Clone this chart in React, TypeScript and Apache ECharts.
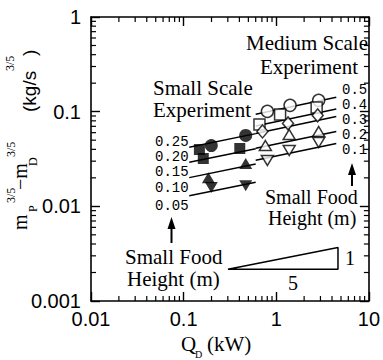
import React, { useEffect, useRef } from "react";
import * as echarts from "echarts";

// Food heights (m) labelling the fitted lines
const medHeights = ["0.5", "0.4", "0.3", "0.2", "0.1"];
const smallHeights = ["0.25", "0.20", "0.15", "0.10", "0.05"];

// Fitted lines (slope 1/5 in log-log): Q_D range and m-values at both ends
const medLineQ = [0.6, 4.45];
const medLineM = [
  [0.0941, 0.1418],
  [0.0707, 0.1066],
  [0.0589, 0.0887],
  [0.041, 0.0618],
  [0.0306, 0.0461],
];
const smallLineQ = [0.115, 0.6];
const smallLineM = [
  [0.0421, 0.0586],
  [0.0292, 0.0406],
  [0.0201, 0.028],
  [0.01296, 0.018],
];

// Medium scale experiment (open symbols)
const medCircle = [[0.802, 0.1007], [1.41, 0.1166], [2.87, 0.1317]];
const medSquare = [[0.659, 0.0733], [1.1, 0.0936], [2.73, 0.111]];
const medDiamond = [[0.71, 0.0618], [1.34, 0.0751], [2.8, 0.0913]];
const medTriUp = [[0.763, 0.0439], [1.38, 0.0574], [2.87, 0.0618]];
const medTriDown = [[0.802, 0.0305], [1.38, 0.0389], [2.87, 0.0472]];

// Small scale experiment (filled symbols)
const smallCircle = [[0.199, 0.0439], [0.468, 0.0561]];
const smallSquare = [[0.148, 0.0398], [0.163, 0.032], [0.404, 0.0408]];
const smallTriUp = [[0.185, 0.0201], [0.468, 0.0283]];
const smallTriDown = [[0.199, 0.0158], [0.468, 0.0165]];

// Slope triangle 1:5
const slopeTriangle = [[0.301, 0.00216], [4.64, 0.00216], [4.64, 0.00367], [0.301, 0.00216]];

// Log minor ticks
const minorMult = [2, 3, 4, 5, 6, 7, 8, 9];
const xDecades = [0.01, 0.1, 1];
const yDecades = [0.001, 0.01, 0.1];

const serif = "'Liberation Serif', 'Times New Roman', serif";
const sans = "'Liberation Sans', Arial, sans-serif";
const mono = "'Liberation Mono', monospace";

export default function App() {
  const ref = useRef<HTMLDivElement>(null);
  useEffect(() => {
    if (!ref.current) return;
    const chart = echarts.init(ref.current, undefined, { renderer: "svg" });

    const xMinor: number[] = [];
    xDecades.forEach((d) => minorMult.forEach((m) => xMinor.push(+(d * m).toPrecision(3))));
    const yMinor: number[] = [];
    yDecades.forEach((d) => minorMult.forEach((m) => yMinor.push(+(d * m).toPrecision(3))));

    const tickStyle = { stroke: "#000", lineWidth: 1.2 };

    const axisCommon = {
      axisLine: { show: true, lineStyle: { color: "#000", width: 1.6 } },
      axisTick: { show: true, inside: true, length: 9, lineStyle: { color: "#000", width: 1.4 } },
      splitLine: { show: false },
    };

    const lineSeries: any[] = [];
    medLineM.forEach((m) =>
      lineSeries.push({
        type: "line",
        data: [[medLineQ[0], m[0]], [medLineQ[1], m[1]]],
        symbol: "none",
        lineStyle: { color: "#000", width: 1.5 },
        z: 2,
      })
    );
    smallLineM.forEach((m) =>
      lineSeries.push({
        type: "line",
        data: [[smallLineQ[0], m[0]], [smallLineQ[1], m[1]]],
        symbol: "none",
        lineStyle: { color: "#000", width: 1.5 },
        z: 2,
      })
    );

    const open = { color: "#fff", borderColor: "#000", borderWidth: 1.5 };
    const filled = { color: "#000", borderColor: "#000", borderWidth: 0 };
    const sc = (data: number[][], symbol: string, size: any, style: any, rotate = 0) => ({
      type: "scatter",
      data,
      symbol,
      symbolSize: size,
      symbolRotate: rotate,
      itemStyle: style,
      z: 4,
    });

    const textEl = (
      text: string,
      x: number,
      y: number,
      size: number,
      family: string,
      align = "left",
      lineHeight?: number
    ) => ({
      type: "text",
      x,
      y,
      silent: true,
      style: {
        text,
        fontSize: size,
        fontFamily: family,
        fill: "#000",
        align,
        verticalAlign: "middle",
        lineHeight: lineHeight ?? size,
      },
    });

    const leftLabelY = [142, 156.5, 171.5, 188, 206];
    const rightLabelY = [90, 105, 120, 135, 150];

    chart.setOption({
      animation: false,
      backgroundColor: "#fff",
      grid: { left: 91, right: 10, top: 17, bottom: 59, containLabel: false },
      xAxis: [
        {
          type: "log",
          logBase: 10,
          min: 0.01,
          max: 10,
          position: "bottom",
          ...axisCommon,
          axisLabel: { color: "#000", fontSize: 20, fontFamily: sans, margin: 8 },
        },
        {
          type: "log",
          logBase: 10,
          min: 0.01,
          max: 10,
          position: "top",
          ...axisCommon,
          axisLabel: { show: false },
        },
      ],
      yAxis: [
        {
          type: "log",
          logBase: 10,
          min: 0.001,
          max: 1,
          position: "left",
          ...axisCommon,
          axisLabel: { color: "#000", fontSize: 20, fontFamily: sans, margin: 10 },
        },
        {
          type: "log",
          logBase: 10,
          min: 0.001,
          max: 1,
          position: "right",
          ...axisCommon,
          axisLabel: { show: false },
        },
      ],
      series: [
        ...lineSeries,
        {
          type: "line",
          data: slopeTriangle,
          symbol: "none",
          lineStyle: { color: "#000", width: 1.5 },
          z: 2,
        },
        sc(medCircle, "circle", 12, open),
        sc(medSquare, "rect", 11, open),
        sc(medDiamond, "diamond", [11, 13], open),
        sc(medTriUp, "triangle", [12, 10], open),
        sc(medTriDown, "triangle", [12, 10], open, 180),
        sc(smallCircle, "circle", 13, filled),
        sc(smallSquare, "rect", 11, filled),
        sc(smallTriUp, "triangle", [13, 11], filled),
        sc(smallTriDown, "triangle", [13, 11], filled, 180),
        {
          type: "custom",
          silent: true,
          clip: false,
          data: xMinor.map((v) => [v, 0.01]),
          renderItem: (_p: any, api: any) => {
            const v = api.value(0);
            const b = api.coord([v, 0.001]);
            const t = api.coord([v, 1]);
            return {
              type: "group",
              children: [
                { type: "line", shape: { x1: b[0], y1: b[1], x2: b[0], y2: b[1] - 5 }, style: tickStyle },
                { type: "line", shape: { x1: t[0], y1: t[1], x2: t[0], y2: t[1] + 5 }, style: tickStyle },
              ],
            };
          },
          z: 3,
        },
        {
          type: "custom",
          silent: true,
          clip: false,
          data: yMinor.map((v) => [1, v]),
          renderItem: (_p: any, api: any) => {
            const v = api.value(1);
            const l = api.coord([0.01, v]);
            const r = api.coord([10, v]);
            return {
              type: "group",
              children: [
                { type: "line", shape: { x1: l[0], y1: l[1], x2: l[0] + 5, y2: l[1] }, style: tickStyle },
                { type: "line", shape: { x1: r[0], y1: r[1], x2: r[0] - 5, y2: r[1] }, style: tickStyle },
              ],
            };
          },
          z: 3,
        },
      ],
      graphic: [
        textEl("Medium Scale", 368, 43, 21, serif, "right", 20),
        textEl("Experiment", 309, 67, 21, serif, "center", 20),
        textEl("Small Scale", 153, 88, 21, serif, "left", 20),
        textEl("Experiment", 153, 110, 21, serif, "left", 20),
        ...smallHeights.map((h, i) => textEl(h, 155, leftLabelY[i], 14, mono, "left", 13)),
        ...medHeights.map((h, i) => textEl(h, 342, rightLabelY[i], 14, mono, "left", 13)),
        textEl("Small Food", 125, 257, 21, serif, "left", 18),
        textEl("Height (m)", 127, 279, 21, serif, "left", 18),
        textEl("Small Food", 265, 197, 20, serif, "left", 17),
        textEl("Height (m)", 268, 218, 20, serif, "left", 17),
        textEl("1", 350, 258, 20, serif, "center"),
        textEl("5", 293, 283, 20, serif, "center"),
        // arrows
        { type: "line", silent: true, shape: { x1: 171.5, y1: 243, x2: 171.5, y2: 226 }, style: { stroke: "#000", lineWidth: 2 } },
        { type: "polygon", silent: true, shape: { points: [[171.5, 217], [167.5, 229], [175.5, 229]] }, style: { fill: "#000" } },
        { type: "line", silent: true, shape: { x1: 352, y1: 186, x2: 352, y2: 172 }, style: { stroke: "#000", lineWidth: 2 } },
        { type: "polygon", silent: true, shape: { points: [[352, 163], [348, 175], [356, 175]] }, style: { fill: "#000" } },
        // x axis title
        textEl("Q", 181, 344, 21, serif),
        textEl("D", 195, 354, 10, serif),
        textEl("(kW)", 207, 344, 21, serif),
        // y axis title
        {
          type: "group",
          x: 0,
          y: 230,
          rotation: Math.PI / 2,
          silent: true,
          children: [
            textEl("m", 0, 20, 20, serif),
            textEl("P", 18, 33, 12, serif),
            textEl("3/5", 27, 11, 12, serif),
            textEl("\u2212m", 40, 20, 20, serif),
            textEl("D", 64, 33, 12, serif),
            textEl("3/5", 73, 11, 12, serif),
            textEl("(kg/s", 118, 29, 19, sans),
            textEl("3/5", 159, 10, 12, serif),
            textEl(")", 174, 29, 19, sans),
          ],
        },
      ],
    });
    return () => chart.dispose();
  }, []);
  return (
    <div
      ref={ref}
      style={{ position: "fixed", left: 0, top: 0, width: 383, height: 360, background: "#fff" }}
    />
  );
}
